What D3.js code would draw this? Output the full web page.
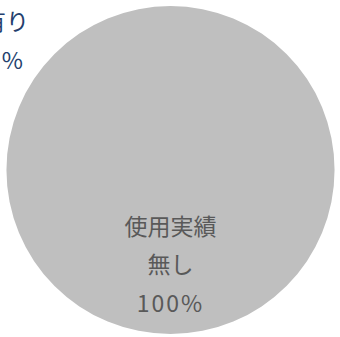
<!DOCTYPE html>
<html><head><meta charset="utf-8">
<script src="https://cdn.jsdelivr.net/npm/d3@7"></script>
<style>html,body{margin:0;padding:0;background:#fff;overflow:hidden}</style>
</head><body>
<svg id="c" width="340" height="337"></svg>
<script>
const categories = ["使用実績有り", "使用実績無し"];
const labelLines = [["使用実績", "有り"], ["使用実績", "無し"]];
const values = [0, 100];
const percentLabels = ["0%", "100%"];

const colors = ["#4472c4", "#bfbfbf"];
const labelColors = ["#243f6e", "#595959"];

const svg = d3.select("#c");
const cx = 170.5, cy = 170, r = 164;
const g = svg.append("g").attr("transform", `translate(${cx},${cy})`);

const pie = d3.pie().sort(null).value(d => d)(values);
const arc = d3.arc().innerRadius(0).outerRadius(r);

g.selectAll("path").data(pie).enter().append("path")
  .attr("d", arc).attr("fill", (d, i) => colors[i]);

const labelArc = d3.arc().innerRadius(r * 0.57 * 2).outerRadius(0);
const font = "'Noto Sans CJK JP', 'Noto Sans', sans-serif";
const lh = 38.5;

pie.forEach((d, i) => {
  let pos;
  if (d.data === 0) {
    pos = [-cx + 6, -cy + 20];
  } else {
    pos = labelArc.centroid(d);
  }
  const lines = [...labelLines[i], percentLabels[i]];
  const t = g.append("text")
    .attr("text-anchor", "middle")
    .attr("font-family", font)
    .attr("font-size", 23)
    .attr("fill", labelColors[i]);
  lines.forEach((s, k) => {
    t.append("tspan").attr("x", pos[0]).attr("y", pos[1] + (k - 1) * lh)
      .attr("dominant-baseline", "central")
      .attr("letter-spacing", k === 2 ? 2 : 0)
      .text(s);
  });
});
</script>
</body></html>
